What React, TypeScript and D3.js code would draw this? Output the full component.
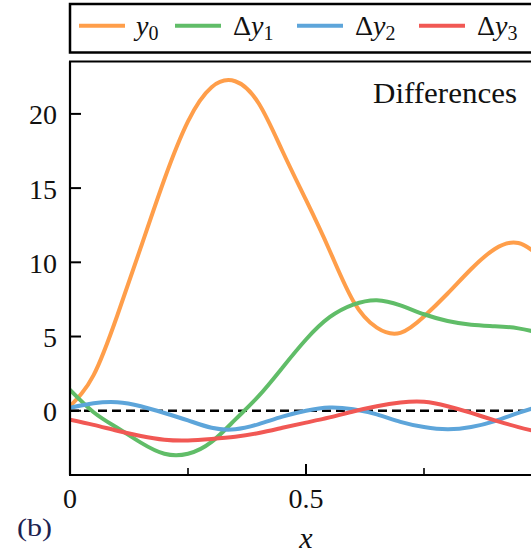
import React from "react";
import * as d3 from "d3";

const xs = [0, 0.05, 0.1, 0.15, 0.2, 0.25, 0.3, 0.35, 0.4, 0.45, 0.5, 0.55, 0.6, 0.65, 0.7, 0.75, 0.8, 0.85, 0.9, 0.95, 1.0];
const y0 = [0.3, 2.4, 6.4, 11.0, 15.6, 19.5, 21.8, 22.2, 20.7, 17.5, 14.2, 10.8, 7.4, 5.6, 5.25, 6.35, 7.9, 9.55, 10.9, 11.3, 10.3];
const dy1 = [1.4, -0.1, -1.15, -2.15, -2.9, -2.9, -2.1, -0.6, 1.0, 2.9, 4.8, 6.3, 7.15, 7.45, 7.1, 6.5, 6.05, 5.8, 5.7, 5.55, 5.2];
const dy2 = [0.2, 0.5, 0.57, 0.3, -0.15, -0.65, -1.15, -1.25, -0.9, -0.4, 0.0, 0.22, 0.1, -0.25, -0.75, -1.1, -1.25, -1.1, -0.7, -0.15, 0.35];
const dy3 = [-0.6, -0.95, -1.35, -1.7, -1.95, -2.0, -1.9, -1.75, -1.5, -1.15, -0.8, -0.45, -0.05, 0.3, 0.55, 0.6, 0.3, -0.15, -0.65, -1.1, -1.5];

const seriesNames = ["y0", "Δy1", "Δy2", "Δy3"];
const seriesColors = ["#FF9E4A", "#60BD68", "#5DA5DA", "#F15854"];
const yTicks = [0, 5, 10, 15, 20];
const xMajorTicks = [0, 0.5];
const xMinorTicks = [0.25, 0.75];
const xTickLabels = ["0", "0.5"];

const W = 531;
const H = 553;
const left = 70;
const top = 61.5;
const bottom = 475;
const right = 542;

const FONT = "'Liberation Serif', 'DejaVu Serif', serif";

export default function App() {
  const x = d3.scaleLinear().domain([0, 1]).range([left, right]);
  const y = d3.scaleLinear().domain([-4.33, 23.53]).range([bottom, top]);
  const series = [y0, dy1, dy2, dy3];
  const line = d3
    .line<number>()
    .x((_, i) => x(xs[i]))
    .y((d) => y(d))
    .curve(d3.curveNatural);

  const legendItems = [
    { lx: 79, tx: 136 },
    { lx: 175, tx: 233 },
    { lx: 297, tx: 355 },
    { lx: 419, tx: 477 },
  ];

  return (
    <svg
      width={W}
      height={H}
      style={{ position: "absolute", left: 0, top: 0, background: "#fff" }}
      fontFamily={FONT}
    >
      <defs>
        <clipPath id="plotclip">
          <rect x={left} y={top} width={right + 40 - left} height={bottom - top} />
        </clipPath>
      </defs>
      <rect x={70} y={4} width={500} height={48.5} fill="#fff" stroke="#000" strokeWidth={2.5} />
      {legendItems.map((it, i) => {
        const name = seriesNames[i];
        const hasDelta = name.startsWith("Δ");
        const sub = name.slice(-1);
        return (
          <g key={i}>
            <line x1={it.lx} x2={it.lx + 46} y1={25.7} y2={25.7} stroke={seriesColors[i]} strokeWidth={4} />
            <text x={it.tx} y={35} fontSize={28} fill="#111">
              {hasDelta ? <tspan>Δ</tspan> : null}
              <tspan fontStyle="italic">y</tspan>
              <tspan fontSize={20} dy={5}>{sub}</tspan>
            </text>
          </g>
        );
      })}

      <line
        x1={x(0)}
        x2={x(1) + 40}
        y1={y(0)}
        y2={y(0)}
        stroke="#000"
        strokeWidth={2.5}
        strokeDasharray="9,5"
        clipPath="url(#plotclip)"
      />

      <g clipPath="url(#plotclip)">
        {series.map((s, i) => (
          <path key={i} d={line(s) || ""} fill="none" stroke={seriesColors[i]} strokeWidth={4} strokeLinecap="round" />
        ))}
      </g>

      <line x1={left} x2={left} y1={top} y2={bottom} stroke="#000" strokeWidth={2.2} />
      <line x1={left - 1} x2={W + 20} y1={bottom} y2={bottom} stroke="#000" strokeWidth={2.2} />
      <line x1={left - 1} x2={W + 20} y1={top} y2={top} stroke="#000" strokeWidth={2.2} />

      {yTicks.map((t) => (
        <g key={t}>
          <line x1={left} x2={left + 11} y1={y(t)} y2={y(t)} stroke="#000" strokeWidth={2} />
          <text x={57} y={y(t) + 10.5} fontSize={28} textAnchor="end" fill="#111">
            {t}
          </text>
        </g>
      ))}

      {xMajorTicks.map((t, i) => (
        <g key={t}>
          <line x1={x(t)} x2={x(t)} y1={bottom} y2={bottom - 11} stroke="#000" strokeWidth={2} />
          <text x={x(t)} y={507.5} fontSize={28} textAnchor="middle" fill="#111">
            {xTickLabels[i]}
          </text>
        </g>
      ))}
      {xMinorTicks.map((t) => (
        <line key={t} x1={x(t)} x2={x(t)} y1={bottom} y2={bottom - 7} stroke="#000" strokeWidth={1.6} />
      ))}

      <text x={373} y={103} fontSize={29} fill="#111" textLength={144} lengthAdjust="spacingAndGlyphs">
        Differences
      </text>

      <text x={x(0.5)} y={548} fontSize={30} fontStyle="italic" textAnchor="middle" fill="#111">
        x
      </text>

      <text x={17} y={536} fontSize={26} fill="#1c2250" textLength={35} lengthAdjust="spacingAndGlyphs">
        (b)
      </text>
    </svg>
  );
}
